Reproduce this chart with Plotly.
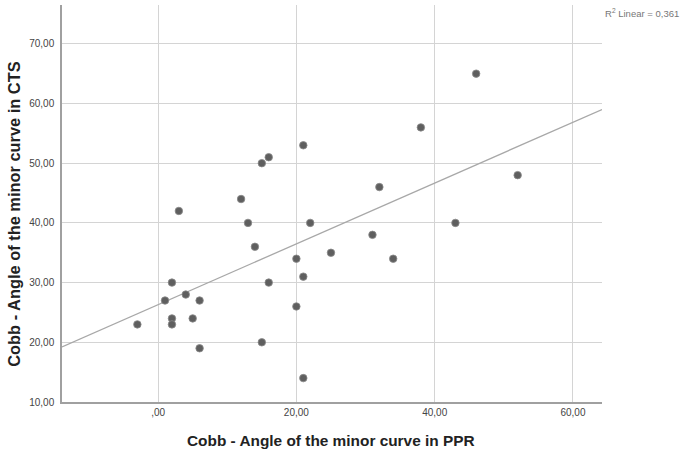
import numpy as np
import plotly.graph_objects as go

# Data
ppr = [-3, 1, 2, 2, 2, 3, 4, 5, 6, 6, 12, 13, 14, 15, 16, 15, 16, 20, 20, 21,
       21, 21, 22, 25, 31, 32, 34, 38, 43, 46, 52]
cts = [23, 27, 30, 24, 23, 42, 28, 24, 27, 19, 44, 40, 36, 50, 51, 20, 30, 34, 26, 53,
       31, 14, 40, 35, 38, 46, 34, 56, 40, 65, 48]

x_tickvals = [0, 20, 40, 60]
x_ticktext = [",00", "20,00", "40,00", "60,00"]
y_tickvals = [10, 20, 30, 40, 50, 60, 70]
y_ticktext = ["10,00", "20,00", "30,00", "40,00", "50,00", "60,00", "70,00"]

x_title = "Cobb - Angle of the minor curve in PPR"
y_title = "Cobb - Angle of the minor curve in CTS"

x_range = [-13.9, 64.2]
y_range = [10, 76.5]

slope, intercept = np.polyfit(ppr, cts, 1)
pred = np.polyval([slope, intercept], ppr)
ss_res = np.sum((np.array(cts) - pred) ** 2)
ss_tot = np.sum((np.array(cts) - np.mean(cts)) ** 2)
r2 = 1 - ss_res / ss_tot

fit_x = np.array(x_range)
fit_y = slope * fit_x + intercept

fig = go.Figure()
fig.add_trace(go.Scatter(x=fit_x, y=fit_y, mode="lines",
                         line=dict(color="#a8a8a8", width=1.3),
                         hoverinfo="skip", showlegend=False, cliponaxis=True))
fig.add_trace(go.Scatter(x=ppr, y=cts, mode="markers",
                         marker=dict(color="#5f5f5f", size=7.5,
                                     line=dict(color="#8a8a8a", width=0.8)),
                         showlegend=False))

font_family = "Liberation Sans, Arial, sans-serif"
fig.update_layout(
    width=685, height=451,
    margin=dict(l=62, r=83, t=5, b=49, autoexpand=False),
    paper_bgcolor="white", plot_bgcolor="white",
    font=dict(family=font_family, color="#333333"),
    xaxis=dict(range=x_range, tickvals=x_tickvals, ticktext=x_ticktext,
               showgrid=True, gridcolor="#d4d4d4", gridwidth=1.2, automargin=False,
               zeroline=False, showline=True, linecolor="#a0a0a0", linewidth=1.5,
               ticks="", tickfont=dict(size=10, color="#444444")),
    yaxis=dict(range=y_range, tickvals=y_tickvals, ticktext=y_ticktext,
               showgrid=True, gridcolor="#d4d4d4", gridwidth=1.2, automargin=False,
               zeroline=False, showline=True, linecolor="#a0a0a0", linewidth=1.5,
               ticks="", ticklabelstandoff=4, tickfont=dict(size=10, color="#444444")),
    annotations=[
        dict(text="R<sup>2</sup> Linear = " + f"{r2:.3f}".replace(".", ","),
             xref="paper", yref="paper", x=1.001, y=0.98,
             xanchor="left", yanchor="middle", showarrow=False,
             font=dict(size=9.5, color="#777777")),
        dict(text="<b>" + x_title + "</b>", xref="paper", yref="paper",
             x=0.498, y=-0.098, xanchor="center", yanchor="middle",
             showarrow=False, font=dict(size=15.4, color="#222222")),
        dict(text="<b>" + y_title + "</b>", xref="paper", yref="paper",
             x=-0.089, y=0.474, xanchor="center", yanchor="middle", textangle=-90,
             showarrow=False, font=dict(size=16.4, color="#222222")),
    ],
)

fig.write_html("out.html", config={"displayModeBar": False},
               post_script="document.body.style.margin='0';document.body.style.padding='0';")
